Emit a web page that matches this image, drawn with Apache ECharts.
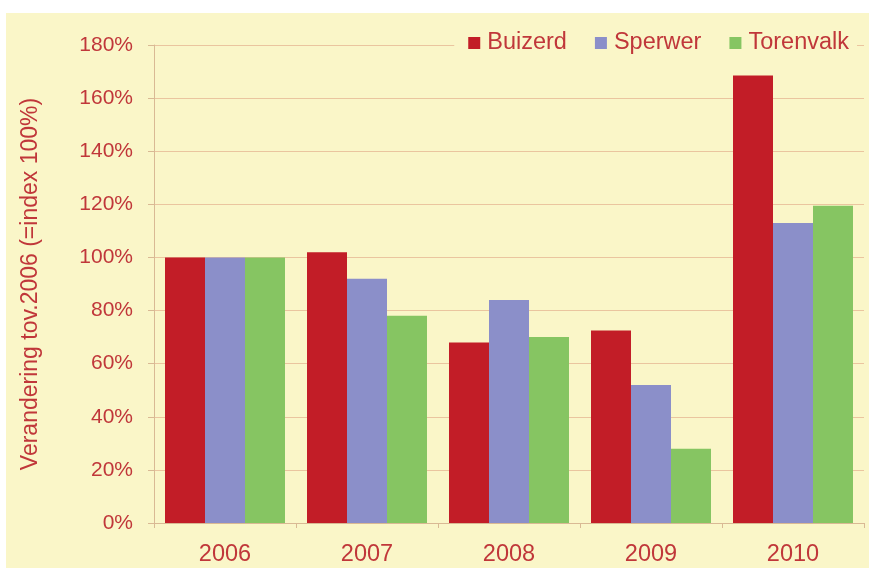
<!DOCTYPE html>
<html>
<head>
<meta charset="utf-8">
<script src="https://cdn.jsdelivr.net/npm/echarts@6/dist/echarts.min.js"></script>
<style>
html,body{margin:0;padding:0;background:#ffffff;width:869px;height:568px;overflow:hidden;}
#chart{position:absolute;left:6px;top:13px;width:863px;height:555px;background:#FAF6C8;}
</style>
</head>
<body>
<div id="chart"></div>
<script>
var categories = ['2006', '2007', '2008', '2009', '2010'];
var seriesNames = ['Buizerd', 'Sperwer', 'Torenvalk'];
var buizerd = [100, 102, 68, 72.5, 168.5];
var sperwer = [100, 92, 84, 52, 113];
var torenvalk = [100, 78, 70, 28, 119.5];
var yTicks = [0, 20, 40, 60, 80, 100, 120, 140, 160, 180];
var colors = ['#C21D27', '#8B8FC9', '#86C562'];

var textColor = '#C0373A';
var bg = '#FAF6C8';
var font = '"Liberation Sans", Arial, sans-serif';

var chart = echarts.init(document.getElementById('chart'), null, {renderer: 'canvas'});
var dataSets = [buizerd, sperwer, torenvalk];
chart.setOption({
  backgroundColor: bg,
  animation: false,
  color: colors,
  grid: {left: 148, right: 5, top: 32, bottom: 45, containLabel: false},
  legend: {
    data: seriesNames,
    right: 12,
    top: 14,
    itemWidth: 12,
    itemHeight: 12,
    itemGap: 28,
    icon: 'rect',
    padding: [4, 8, 4, 14],
    backgroundColor: bg,
    textStyle: {color: textColor, fontSize: 23.5, fontFamily: font, padding: [0, 0, 0, 2]}
  },
  xAxis: {
    type: 'category',
    data: categories,
    axisLine: {lineStyle: {color: '#D9B994', width: 1}},
    axisTick: {show: true, length: 5, lineStyle: {color: '#D9B994'}},
    axisLabel: {color: textColor, fontSize: 23.5, fontFamily: font, margin: 20}
  },
  yAxis: {
    type: 'value',
    min: yTicks[0],
    max: yTicks[yTicks.length - 1],
    interval: 20,
    name: 'Verandering tov.2006 (=index 100%)',
    nameLocation: 'middle',
    nameRotate: 90,
    nameGap: 112,
    nameTextStyle: {color: textColor, fontSize: 23, fontFamily: font},
    axisLine: {show: true, lineStyle: {color: '#D9B994', width: 1}},
    axisTick: {show: true, length: 6, lineStyle: {color: '#D9B994'}},
    axisLabel: {color: textColor, fontSize: 21, fontFamily: font, margin: 21,
      formatter: function (v) { return v + '%'; }},
    splitLine: {show: true, lineStyle: {color: '#EAC59F', width: 1}}
  },
  series: seriesNames.map(function (n, i) {
    return {
      name: n,
      type: 'bar',
      data: dataSets[i],
      barGap: '0%',
      barCategoryGap: '15.5%'
    };
  })
});
</script>
</body>
</html>
